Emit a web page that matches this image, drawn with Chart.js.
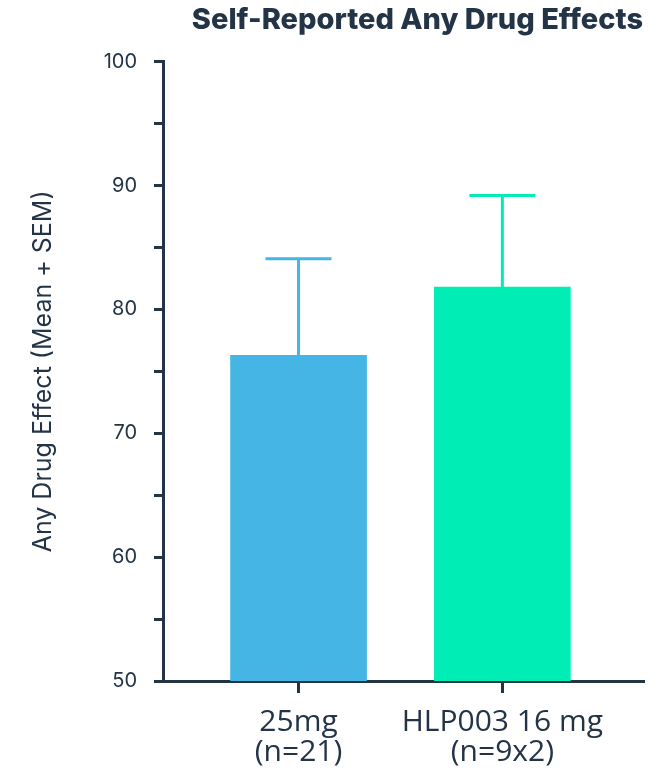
<!DOCTYPE html>
<html>
<head>
<meta charset="utf-8">
<script src="https://cdn.jsdelivr.net/npm/chart.js@4"></script>
<style>
  html, body { margin: 0; padding: 0; background: #fff; }
  #wrap { width: 669px; height: 773px; }
</style>
</head>
<body>
<div id="wrap"><canvas id="myChart" width="669" height="773"></canvas></div>
<script>
// data
const groups = [['25mg', '(n=21)'], ['HLP003 16 mg', '(n=9x2)']]
const means = [76.3, 81.8]
const sems = [7.8, 7.4]
const barColors = ['#45b5e6', '#00edb5']
const yTicks = [50, 60, 70, 80, 90, 100]

const ink = '#243447'

// error bars (mean + SEM only)
const errorBars = {
    id: 'errorBars',
    afterDatasetsDraw(chart) {
        const c = chart.ctx
        const yScale = chart.scales.y
        const meta = chart.getDatasetMeta(0)
        meta.data.forEach((bar, i) => {
            const top = yScale.getPixelForValue(means[i] + sems[i])
            c.save()
            c.strokeStyle = barColors[i]
            c.lineWidth = 3
            c.beginPath()
            c.moveTo(bar.x, bar.y)
            c.lineTo(bar.x, top)
            c.moveTo(bar.x - 33, top)
            c.lineTo(bar.x + 33, top)
            c.stroke()
            c.restore()
        })
    }
}

const ctx = document.getElementById('myChart').getContext('2d')
new Chart(ctx, {
    type: 'bar',
    data: {
        datasets: [{
            data: means.map((v, i) => ({ x: i + 1, y: v })),
            backgroundColor: barColors,
            barThickness: 136
        }]
    },
    options: {
        responsive: false,
        animation: false,
        layout: { padding: { left: 28, right: 26, top: 0, bottom: 0 } },
        plugins: {
            legend: { display: false },
            tooltip: { enabled: false },
            title: {
                display: true,
                text: 'Self-Reported Any Drug Effects',
                align: 'end',
                color: ink,
                font: { family: 'Inter', size: 29, weight: 800 },
                padding: { top: 3, bottom: 24 }
            }
        },
        scales: {
            x: {
                type: 'linear',
                offset: false,
                min: 0.335,
                max: 2.69,
                afterBuildTicks: (axis) => {
                    axis.ticks = groups.map((g, i) => ({ value: i + 1 }))
                },
                afterFit: (axis) => { axis.height = 92 },
                ticks: {
                    color: ink,
                    font: { family: 'Open Sans', size: 30, lineHeight: 1.02 },
                    padding: 14,
                    maxRotation: 0,
                    autoSkip: false,
                    callback: (v) => groups[v - 1]
                },
                grid: { offset: false, drawOnChartArea: false, drawTicks: true, tickLength: 12, color: ink, lineWidth: 3 },
                border: { color: ink, width: 3 }
            },
            y: {
                min: 50,
                max: 100,
                afterFit: (axis) => { axis.width = 135 },
                ticks: {
                    stepSize: 5,
                    color: ink,
                    font: { family: 'Inter', size: 20 },
                    padding: 17,
                    callback: (v) => yTicks.includes(v) ? v : ''
                },
                grid: { drawOnChartArea: false, drawTicks: true, tickLength: 9, color: ink, lineWidth: 3 },
                border: { color: ink, width: 3 },
                title: {
                    display: true,
                    text: 'Any Drug Effect (Mean + SEM)',
                    color: ink,
                    font: { family: 'Inter', size: 25 },
                    padding: { top: 0, bottom: 0 }
                }
            }
        }
    },
    plugins: [errorBars]
})
</script>
</body>
</html>
